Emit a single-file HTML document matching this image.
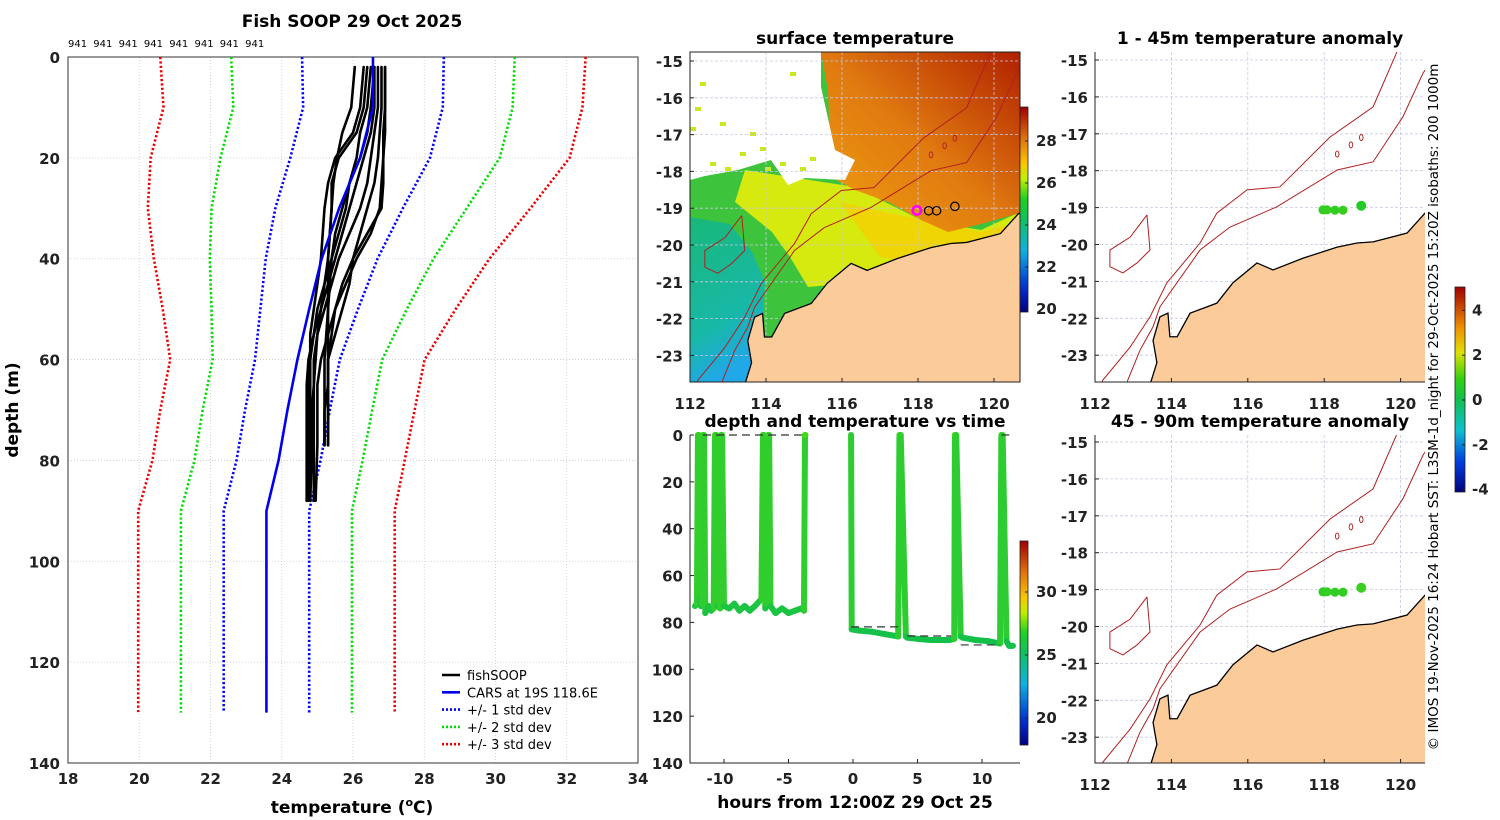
<!DOCTYPE html>
<html><head><meta charset="utf-8"><style>
html,body{margin:0;padding:0;background:#fff}
svg{display:block;font-family:"DejaVu Sans","Liberation Sans",sans-serif}
.t{font-weight:bold;font-size:15px;fill:#222}
.ttl{font-weight:bold;font-size:17px;fill:#000}
</style></head><body>
<svg id="fig" width="1500" height="820" viewBox="0 0 1500 820" xmlns="http://www.w3.org/2000/svg">
<defs>
<linearGradient id="sstbar" x1="0" y1="1" x2="0" y2="0">
<stop offset="0" stop-color="#00007f"/><stop offset="0.12" stop-color="#0030d0"/><stop offset="0.3" stop-color="#10b0e0"/><stop offset="0.45" stop-color="#10c060"/><stop offset="0.55" stop-color="#20d020"/><stop offset="0.65" stop-color="#c0f000"/><stop offset="0.72" stop-color="#f8c800"/><stop offset="0.85" stop-color="#e07010"/><stop offset="1" stop-color="#a00000"/></linearGradient>
<linearGradient id="anombar" x1="0" y1="1" x2="0" y2="0">
<stop offset="0" stop-color="#00007f"/><stop offset="0.15" stop-color="#0040e0"/><stop offset="0.3" stop-color="#10c0d0"/><stop offset="0.45" stop-color="#10c050"/><stop offset="0.55" stop-color="#30d010"/><stop offset="0.68" stop-color="#e0e000"/><stop offset="0.8" stop-color="#f09000"/><stop offset="1" stop-color="#a00000"/></linearGradient>
<linearGradient id="orangeg" x1="0" y1="1" x2="1" y2="0">
<stop offset="0" stop-color="#f0a010"/><stop offset="0.5" stop-color="#e07a10"/><stop offset="1" stop-color="#b02000"/></linearGradient>
<linearGradient id="tealg" x1="0" y1="0" x2="0.3" y2="1">
<stop offset="0" stop-color="#18b878"/><stop offset="0.7" stop-color="#18b8a8"/><stop offset="1" stop-color="#20a8e8"/></linearGradient>
<clipPath id="clip2"><rect x="690" y="52" width="330" height="330"/></clipPath>
<clipPath id="clip4"><rect x="1095" y="52" width="330" height="330"/></clipPath>
<clipPath id="clip5"><rect x="1095" y="435" width="330" height="328"/></clipPath>
</defs>
</svg>
<script>
// ---------- DATA ----------
const profDepths = [0,10,20,30,40,50,60,70,80,90,130];
const carsMean = [26.56,26.56,26.2,25.61,25.12,24.77,24.44,24.16,23.91,23.57,23.57];
const carsStd = [1.99,1.96,1.96,1.79,1.57,1.37,1.19,1.19,1.18,1.2,1.2];
const soopDepths = [2,10,15,20,25,30,35,40,45,50,55,60,65,70,77,88];
const soopProfiles = [
 [26.05,25.95,25.7,25.55,25.45,25.4,25.35,25.3,25.2,25.1,24.9,24.75,24.7,24.7,24.7,24.7],
 [26.3,26.2,26.0,25.5,25.3,25.2,25.15,25.1,25.0,24.9,24.8,24.8,24.75,24.75,24.75,24.7],
 [26.5,26.4,26.2,26.1,25.9,25.8,25.6,25.4,25.2,25.0,24.9,24.8,24.8,24.8,24.8,24.75],
 [26.6,26.6,26.5,26.3,26.1,25.9,25.7,25.5,25.3,25.1,25.0,24.9,24.9,24.85,24.85,24.8],
 [26.7,26.7,26.6,26.5,26.4,26.2,25.9,25.6,25.4,25.2,25.0,24.95,24.9,24.9,24.9,24.9],
 [26.9,26.9,26.9,26.85,26.8,26.75,26.5,26.1,25.8,25.5,25.3,25.1,25.0,25.0,25.0,24.95],
 [26.8,26.8,26.75,26.7,26.6,26.4,26.2,26.0,25.9,25.7,25.5,25.3,25.3,25.3,25.3],
 [26.9,26.9,26.85,26.85,26.85,26.8,26.4,26.0,25.7,25.5,25.4,25.3,25.3,25.2,25.2],
 [26.4,26.3,26.1,25.6,25.4,25.4,25.35,25.3,25.3,25.3,25.25,25.2,25.2,25.2,25.2],
 [26.6,26.5,26.4,26.2,25.9,25.7,25.5,25.4,25.35,25.3,25.3,25.3,25.3,25.3,25.3]
];
const tempTicks = [18,20,22,24,26,28,30,32,34];
const depthTicks = [0,20,40,60,80,100,120,140];
const dropCounts = ["941","941","941","941","941","941","941","941"];

const hours = [-12.25,-12.1,-12.02,-11.95,-11.9,-11.8,-11.7,-11.63,-11.55,-11.45,-11.2,-11.0,-10.8,-10.7,-10.6,-10.5,-10.3,-10.23,-10.15,-10.0,-9.6,-9.2,-8.8,-8.4,-8.0,-7.6,-7.1,-6.98,-6.9,-6.8,-6.65,-6.59,-6.5,-6.4,-6.0,-5.5,-5.0,-4.5,-4.0,-3.8,-3.72,-3.68,
 null,
 -0.15,-0.1,0.5,1.5,2.5,3.5,3.6,3.7,4.1,4.2,5,6,7.5,7.85,7.9,8.0,8.35,8.5,9.5,10.5,11.4,11.5,11.6,11.9,12.1,12.4];
const sensorDepth = [73,72,0,0,70,73,72,0,0,76,73,75,74,0,0,73,74,0,0,73,74,72,75,73,75,73,70,0,0,74,72,0,0,73,76,74,76,75,74,75,0,0,
 null,
 0,83,83.5,84,85,86,0,0,86,86.5,87,87.5,87.5,87,0,0,86,86.5,87.5,88,89,0,0,88,90,90];
const dashStartH = [-11.63,11.5,-0.15,4.2,8.35];
const dashEndH = [-3.72,12.4,3.6,7.6,11.4];
const dashDepth = [0,0,81.9,85.8,89.6];
const hourTicks = [-10,-5,0,5,10];

const lonTicks = [112,114,116,118,120];
const latTicks = [-15,-16,-17,-18,-19,-20,-21,-22,-23];
const coastLon = [121.6,120.64,120.17,119.28,118.86,118.34,117.45,116.66,116.24,115.61,115.19,114.49,114.15,113.96,113.91,113.7,113.52,113.62,113.44];
const coastLat = [-19.0,-19.15,-19.69,-19.93,-19.96,-20.07,-20.37,-20.69,-20.5,-21.04,-21.59,-21.86,-22.5,-22.5,-21.86,-21.96,-22.6,-23.2,-23.8];
const iso1000Lon = [119.98,119.28,118.15,116.84,115.98,115.19,114.75,113.88,113.44,112.92,112.21,112.1];
const iso1000Lat = [-14.6,-16.27,-17.09,-18.44,-18.52,-19.15,-19.96,-21.04,-21.96,-22.78,-23.67,-23.9];
const iso200Lon = [120.9,120.59,120.06,119.28,118.34,116.76,115.53,114.75,113.7,113.52,113.18,112.86,112.8];
const iso200Lat = [-14.9,-15.35,-16.54,-17.76,-17.98,-18.98,-19.53,-20.15,-21.69,-22.23,-22.86,-23.67,-23.9];
const plateauLon = [113.36,113.44,113.1,112.73,112.39,112.39,112.92,113.36];
const plateauLat = [-19.2,-20.15,-20.5,-20.77,-20.6,-20.15,-19.8,-19.2];
const moundLon = [118.34,118.7,118.97];
const moundLat = [-17.55,-17.3,-17.1];
const stnLon = [117.97,118.07,118.28,118.49,118.97];
const stnLat = [-19.06,-19.06,-19.07,-19.07,-18.95];
const anomShallow = [0.3,0.4,0.3,0.4,0.1];
const anomDeep = [0.3,0.4,0.3,0.3,0.5];
const sstTicks = [28,26,24,22,20];
const dtTicks = [30,25,20];
const anomTicks = [4,2,0,-2,-4];

// ---------- HELPERS ----------
const svg = document.getElementById('fig');
const NS = 'http://www.w3.org/2000/svg';
function mk(tag, attrs, parent){
  const e = document.createElementNS(NS, tag);
  for (const k in attrs) e.setAttribute(k, attrs[k]);
  (parent||svg).appendChild(e);
  return e;
}
function txt(x,y,s,cls,anchor,parent){
  const e = mk('text',{x:x,y:y,'class':cls||'t','text-anchor':anchor||'middle'},parent);
  e.textContent = s;
  return e;
}

// ---------- PANEL 1: profiles ----------
const P1 = {x0:68,x1:638,y0:57,y1:763};
const X1 = t => P1.x0 + (t-18)*(P1.x1-P1.x0)/16;
const Y1 = d => P1.y0 + d*(P1.y1-P1.y0)/140;
const g1 = mk('g',{});


tempTicks.forEach(t=>{
  const l = mk('line',{x1:X1(t),x2:X1(t),y1:P1.y0,y2:P1.y1,stroke:'#c8c8d8','stroke-width':0.8,'stroke-dasharray':'1,2'},g1);
  
  
  const lb = txt(X1(t),784,String(t),'t','middle',g1);
  
  
});
depthTicks.forEach(d=>{
  const l = mk('line',{x1:P1.x0,x2:P1.x1,y1:Y1(d),y2:Y1(d),stroke:'#c8c8d8','stroke-width':0.8,'stroke-dasharray':'1,2'},g1);
  
  
  const lb = txt(60,Y1(d)+6,String(d),'t','end',g1);
  
  
});
const box1 = mk('rect',{x:P1.x0,y:P1.y0,width:P1.x1-P1.x0,height:P1.y1-P1.y0,fill:'none',stroke:'#333','stroke-width':1},g1);


const stdCols = ['#0000ff','#00dd00','#ee0000'];
[1,2,3].forEach(k=>{
  [-1,1].forEach(sg=>{
    const pts = profDepths.map((d,i)=>X1(carsMean[i]+sg*k*carsStd[i])+','+Y1(d)).join(' ');
    const pl = mk('polyline',{points:pts,fill:'none',stroke:stdCols[k-1],'stroke-width':2.6,'stroke-dasharray':'2.2,2.2'},g1);
    
    
  });
});
soopProfiles.forEach((p,j)=>{
  const pts = p.map((t,i)=>X1(t)+','+Y1(soopDepths[i])).join(' ');
  const pl = mk('polyline',{points:pts,fill:'none',stroke:'#000','stroke-width':2.6,'stroke-linejoin':'round','stroke-linecap':'round'},g1);
  
  
});
const meanPts = profDepths.map((d,i)=>X1(carsMean[i])+','+Y1(d)).join(' ');
const mean = mk('polyline',{points:meanPts,fill:'none',stroke:'#0000ee','stroke-width':2.6},g1);


dropCounts.forEach((s,i)=>{
  const e = mk('text',{x:68+i*25.3,y:47,'font-size':10,fill:'#000'},g1);
  e.textContent = s;
  
  
});
const t1 = txt(352,27,'Fish SOOP 29 Oct 2025','ttl','middle');


const xl = mk('text',{x:352,y:813,'class':'ttl','text-anchor':'middle'});
xl.innerHTML = 'temperature (<tspan dy="-7" font-size="11">o</tspan><tspan dy="7">C)</tspan>';


const yl = mk('text',{x:0,y:0,'class':'ttl','text-anchor':'middle',transform:'translate(18,410) rotate(-90)'});
yl.textContent = 'depth (m)';


const legItems = [['fishSOOP','#000',''],['CARS at 19S 118.6E','#0000ee',''],['+/- 1 std dev','#0000ff','2,2'],['+/- 2 std dev','#00dd00','2,2'],['+/- 3 std dev','#ee0000','2,2']];
const leg = mk('g',{});


legItems.forEach((it,i)=>{
  const y = 675+i*17.3;
  const a = {x1:442,x2:460,y1:y,y2:y,stroke:it[1],'stroke-width':2.6};
  if(it[2]) a['stroke-dasharray']=it[2];
  const l = mk('line',a,leg);
  
  
  const e = mk('text',{x:467,y:y+5,'font-size':13,fill:'#000'},leg);
  e.textContent = it[0];
  
  
});

// ---------- MAP HELPER ----------
function anomColor(v){
  const r = Math.round(30 + Math.max(0,v)*60);
  const g = Math.round(200 + Math.max(-1,Math.min(1,v))*15);
  const b = Math.round(40 - Math.max(0,v)*20);
  return 'rgb('+r+','+g+','+b+')';
}
function drawMap(opts){
  const g = mk('g',{});
  
  
  const MX = lon => opts.x0 + (lon-112)*opts.sx;
  const MY = lat => opts.yref + (-15-lat)*opts.sy;
  const cg = mk('g',{'clip-path':'url(#'+opts.clip+')'},g);
  if(opts.sst){
    const L = opts.x0, T = opts.top;
    const P = a => a.map(p=>(L+p[0])+','+(T+p[1])).join(' ');
    const base = mk('rect',{x:L,y:T,width:330,height:330,fill:'#3ec43c'},cg);
    
    
    const teal = mk('polygon',{points:P([[0,165],[40,172],[62,200],[75,230],[72,280],[60,330],[0,330]]),fill:'url(#tealg)'},cg);
    
    
    const yel = mk('polygon',{points:P([[55,118],[165,135],[231,168],[291,178],[330,160],[330,240],[240,215],[180,225],[150,232],[118,235],[100,205],[82,180],[45,150]]),fill:'#d6ea10'},cg);
    
    
    const yel2 = mk('polygon',{points:P([[150,150],[231,168],[291,180],[330,170],[330,240],[250,215],[190,205]]),fill:'#f4d000',opacity:0.8},cg);
    
    
    const ora = mk('polygon',{points:P([[131,0],[330,0],[330,161],[291,172],[258,180],[231,168],[198,150],[165,138],[141,125],[138,38]]),fill:'url(#orangeg)'},cg);
    
    
    const wh = mk('polygon',{points:P([[0,0],[131,0],[131,35],[145,98],[165,108],[155,128],[115,126],[98,133],[81,108],[48,118],[15,124],[0,128]]),fill:'#fff'},cg);
    
    
    const spk = [[10,30],[30,70],[50,100],[20,110],[70,95],[100,20],[5,55],[110,115],[60,80],[90,110],[0,75],[35,115],[75,115],[120,105]];
    spk.forEach(p=>{
      const r = mk('rect',{x:L+p[0],y:T+p[1],width:6,height:4,fill:'#c8e820'},cg);
      
      
    });
  }
  lonTicks.forEach(lon=>{
    const l = mk('line',{x1:MX(lon),x2:MX(lon),y1:opts.top,y2:opts.bot,stroke:'#c8c8e0','stroke-width':0.8,'stroke-dasharray':'3,2'},cg);
    
    
  });
  latTicks.forEach(lat=>{
    const l = mk('line',{x1:opts.x0,x2:opts.x0+330,y1:MY(lat),y2:MY(lat),stroke:'#c8c8e0','stroke-width':0.8,'stroke-dasharray':'3,2'},cg);
    
    
  });
  const landPts = coastLon.map((lon,i)=>MX(lon)+','+MY(coastLat[i])).join(' ') + ' ' + MX(113.3)+','+MY(-24.5)+' '+MX(121.6)+','+MY(-24.5);
  const land = mk('polygon',{points:landPts,fill:'#fbcb99',stroke:'#000','stroke-width':1.3},cg);
  
  
  [[iso1000Lon,iso1000Lat,'isobath-1000m'],[iso200Lon,iso200Lat,'isobath-200m'],[plateauLon,plateauLat,'isobath-plateau']].forEach(a=>{
    const pts = a[0].map((lon,i)=>MX(lon)+','+MY(a[1][i])).join(' ');
    const pl = mk('polyline',{points:pts,fill:'none',stroke:'#b02020','stroke-width':1},cg);
    
    
  });
  moundLon.forEach((lon,i)=>{
    const e = mk('ellipse',{cx:MX(lon),cy:MY(moundLat[i]),rx:1.8,ry:3,fill:'none',stroke:'#b02020','stroke-width':0.9},cg);
    
    
  });
  if(opts.sst){
    stnLon.forEach((lon,i)=>{
      if(i===1) return;
      const c = mk('circle',{cx:MX(lon),cy:MY(stnLat[i]),r:4.2,fill:'none',stroke:i===0?'#ff00ff':'#000','stroke-width':i===0?2.5:1.2},cg);
      
      
    });
  } else {
    opts.vals.forEach((v,i)=>{
      const c = mk('circle',{cx:MX(stnLon[i]),cy:MY(stnLat[i]),r:i===4?5:4.6,fill:anomColor(v)},cg);
      
      
    });
  }
  const ax = mk('path',{d:'M'+opts.x0+','+opts.top+' V'+opts.bot+' H'+(opts.x0+330)+(opts.sst?' V'+opts.top+' Z':''),fill:'none',stroke:'#222','stroke-width':1},g);
  
  
  lonTicks.forEach(lon=>{
    const lb = txt(MX(lon),opts.bot+27,String(lon),'t','middle',g);
    
    
    const tk = mk('line',{x1:MX(lon),x2:MX(lon),y1:opts.bot,y2:opts.bot-4,stroke:'#222'},g);
    
    
  });
  latTicks.forEach(lat=>{
    const lb = txt(opts.x0-7,MY(lat)+6,String(lat),'t','end',g);
    
    
    const tk = mk('line',{x1:opts.x0,x2:opts.x0+4,y1:MY(lat),y2:MY(lat),stroke:'#222'},g);
    
    
  });
  const tt = txt(opts.x0+(opts.tx||165),opts.top-8,opts.title,'ttl','middle',g);
  
  
}

drawMap({name:'surface-temperature-map',x0:690,top:52,bot:382,yref:61,sx:38,sy:36.8,clip:'clip2',sst:true,title:'surface temperature'});
drawMap({name:'anomaly-map-1-45m',x0:1095,top:52,bot:382,yref:60,sx:38.2,sy:36.9,clip:'clip4',vals:anomShallow,title:'1 - 45m temperature anomaly',tx:165});
drawMap({name:'anomaly-map-45-90m',x0:1095,top:435,bot:763,yref:442,sx:38.2,sy:36.9,clip:'clip5',vals:anomDeep,title:'45 - 90m temperature anomaly',tx:165});

// ---------- PANEL 3: depth vs time ----------
const P3 = {x0:690,x1:1020,y0:435,y1:763};
const X3 = h => 853 + h*12.9;
const Y3 = d => P3.y0 + d*(P3.y1-P3.y0)/140;
const g3 = mk('g',{});


function depthColor(d){
  const f = Math.max(0,Math.min(1,d/90));
  return 'rgb('+Math.round(70-f*52)+','+Math.round(215-f*23)+','+Math.round(25+f*50)+')';
}
for(let i=0;i<hours.length-1;i++){
  if(hours[i]===null||hours[i+1]===null) continue;
  const s = mk('line',{x1:X3(hours[i]),y1:Y3(sensorDepth[i]),x2:X3(hours[i+1]),y2:Y3(sensorDepth[i+1]),stroke:depthColor((sensorDepth[i]+sensorDepth[i+1])/2),'stroke-width':6,'stroke-linecap':'round'},g3);
  
  
}
dashDepth.forEach((d,i)=>{
  const l = mk('line',{x1:X3(dashStartH[i]),x2:X3(dashEndH[i]),y1:Y3(d),y2:Y3(d),stroke:'#333','stroke-width':1.2,'stroke-dasharray':'8,5'},g3);
  
  
});
const ax3 = mk('path',{d:'M690,435 V763 H1020',fill:'none',stroke:'#222'},g3);


depthTicks.forEach(d=>{
  const lb = txt(683,Y3(d)+6,String(d),'t','end',g3);
  
  
  const tk = mk('line',{x1:690,x2:694,y1:Y3(d),y2:Y3(d),stroke:'#222'},g3);
  
  
});
hourTicks.forEach(h=>{
  const lb = txt(X3(h)-(h<0?4:0),784,String(h),'t','middle',g3);
  
  
  const tk = mk('line',{x1:X3(h),x2:X3(h),y1:763,y2:759,stroke:'#222'},g3);
  
  
});
const t3 = txt(855,427,'depth and temperature vs time','ttl','middle',g3);


const x3l = txt(855,808,'hours from 12:00Z 29 Oct 25','ttl','middle',g3);



// ---------- COLORBARS ----------
function colorbar(name,x,y,w,h,fill,ticks,tickY,lx){
  const g = mk('g',{});
  
  
  const r = mk('rect',{x:x,y:y,width:w,height:h,fill:fill,stroke:'#222','stroke-width':0.8},g);
  
  
  ticks.forEach((t,i)=>{
    const lb = txt(lx,tickY[i]+5,String(t),'t','start',g);
    lb.setAttribute('font-size','13');
    
    
    const tk = mk('line',{x1:x+w-3,x2:x+w,y1:tickY[i],y2:tickY[i],stroke:'#222'},g);
    
    
  });
}
colorbar('sst-colorbar',1020,107,8,205,'url(#sstbar)',sstTicks,sstTicks.map(t=>141+(28-t)*21),1036);
colorbar('time-temp-colorbar',1020,541,8,204,'url(#sstbar)',dtTicks,dtTicks.map(t=>592+(30-t)*12.6),1036);
colorbar('anomaly-colorbar',1455,287,10,205,'url(#anombar)',anomTicks,anomTicks.map(t=>400-t*22.4),1472);

const cr = mk('text',{x:0,y:0,'font-size':13.5,fill:'#000','text-anchor':'middle',transform:'translate(1438,407) rotate(-90)'});
cr.textContent = '\u00a9 IMOS 19-Nov-2025 16:24 Hobart SST: L3SM-1d_night for 29-Oct-2025 15:20Z isobaths: 200  1000m';


</script>
</body></html>
